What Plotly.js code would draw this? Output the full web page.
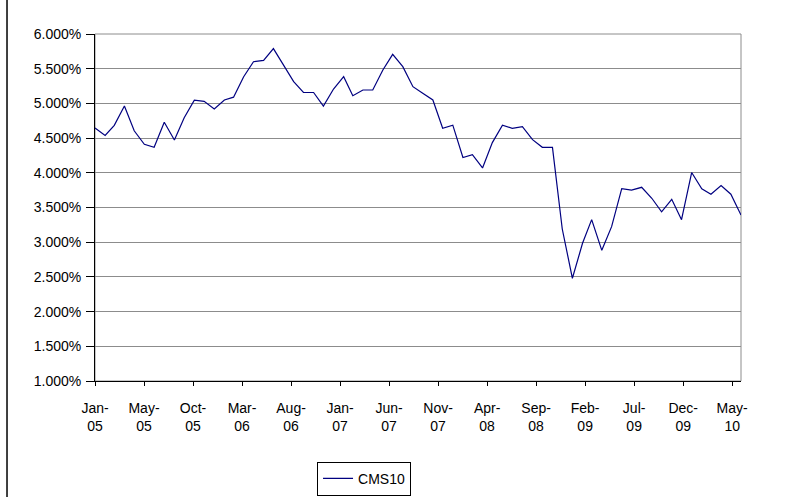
<!DOCTYPE html>
<html>
<head>
<meta charset="utf-8">
<script src="https://cdn.plot.ly/plotly-3.0.1.min.js"></script>
<style>
  html, body { margin: 0; padding: 0; background: #ffffff; }
  #chart { width: 793px; height: 497px; }
</style>
</head>
<body>
<div id="chart"></div>
<script>
// Monthly observations, Jan-2005 .. Jun-2010 (first of month)
const startYear = 2005, startMonth = 1, nPoints = 66;
const dates = [];
for (let i = 0; i < nPoints; i++) {
  const m = startMonth - 1 + i;
  const y = startYear + Math.floor(m / 12);
  const mm = (m % 12) + 1;
  dates.push(y + '-' + String(mm).padStart(2, '0') + '-01');
}

// CMS10 rate, in percent
const cms10 = [
  4.645, 4.538, 4.684, 4.962, 4.605, 4.411, 4.367, 4.728, 4.473, 4.794,
  5.047, 5.030, 4.919, 5.049, 5.090, 5.385, 5.601, 5.620, 5.790, 5.545,
  5.313, 5.157, 5.157, 4.962, 5.207, 5.385, 5.111, 5.193, 5.193, 5.481,
  5.707, 5.529, 5.241, 5.145, 5.049, 4.641, 4.686, 4.220, 4.261, 4.070,
  4.435, 4.686, 4.641, 4.664, 4.478, 4.367, 4.367, 3.190, 2.480, 2.984,
  3.325, 2.883, 3.224, 3.771, 3.750, 3.791, 3.633, 3.438, 3.618, 3.325,
  4.004, 3.769, 3.692, 3.817, 3.692, 3.392
];

// Date-axis ticks (every 150 days from 1-Jan-2005)
const tickDates = [
  '2005-01-01', '2005-05-31', '2005-10-28', '2006-03-27', '2006-08-24',
  '2007-01-21', '2007-06-20', '2007-11-17', '2008-04-15', '2008-09-12',
  '2009-02-09', '2009-07-09', '2009-12-06', '2010-05-05'
];
const tickLabels = [
  'Jan-<br>05', 'May-<br>05', 'Oct-<br>05', 'Mar-<br>06', 'Aug-<br>06',
  'Jan-<br>07', 'Jun-<br>07', 'Nov-<br>07', 'Apr-<br>08', 'Sep-<br>08',
  'Feb-<br>09', 'Jul-<br>09', 'Dec-<br>09', 'May-<br>10'
];

const seriesName = 'CMS10';
const font = 'Liberation Sans, Arial, sans-serif';

const trace = {
  x: dates,
  y: cms10,
  type: 'scatter',
  mode: 'lines',
  name: seriesName,
  line: { color: '#000080', width: 1.2 },
  showlegend: true
};

const layout = {
  width: 793,
  height: 497,
  margin: { l: 95, r: 52, t: 34, b: 116, autoexpand: false },
  paper_bgcolor: '#ffffff',
  plot_bgcolor: '#ffffff',
  font: { family: font, size: 14, color: '#000000' },
  showlegend: true,
  legend: {
    orientation: 'h',
    x: 0.3437, xanchor: 'left',
    y: -0.233, yanchor: 'top',
    bgcolor: '#ffffff',
    bordercolor: '#000000',
    borderwidth: 1,
    font: { family: font, size: 14, color: '#000000' }
  },
  xaxis: {
    type: 'date',
    range: ['2005-01-01', '2010-06-01'],
    tickmode: 'array',
    tickvals: tickDates,
    ticktext: tickLabels,
    tickangle: 0,
    showgrid: false,
    zeroline: false,
    showline: true,
    linecolor: '#000000',
    linewidth: 1,
    ticks: 'outside',
    ticklen: 4,
    tickcolor: '#000000',
    ticklabelstandoff: 10,
    automargin: false,
    tickfont: { family: font, size: 14, color: '#000000' },
    fixedrange: true
  },
  yaxis: {
    range: [1, 6],
    dtick: 0.5,
    tick0: 1,
    tickformat: '.3f',
    ticksuffix: '%',
    showgrid: true,
    gridcolor: '#8c8c8c',
    gridwidth: 1,
    zeroline: false,
    showline: true,
    linecolor: '#000000',
    linewidth: 1,
    ticks: 'outside',
    ticklen: 8,
    tickcolor: '#000000',
    ticklabelstandoff: 2,
    automargin: false,
    tickfont: { family: font, size: 14, color: '#000000' },
    fixedrange: true
  },
  shapes: [
    { type: 'rect', xref: 'paper', yref: 'paper', x0: 0, x1: 1, y0: 0, y1: 1,
      line: { color: '#8c8c8c', width: 1 }, layer: 'below' },
    { type: 'line', xref: 'paper', yref: 'paper',
      x0: -0.1362, x1: -0.1362, y0: -0.36, y1: 1.1,
      line: { color: '#000000', width: 1.5 } }
  ]
};

Plotly.newPlot('chart', [trace], layout, { displayModeBar: false, staticPlot: true });
</script>
</body>
</html>
